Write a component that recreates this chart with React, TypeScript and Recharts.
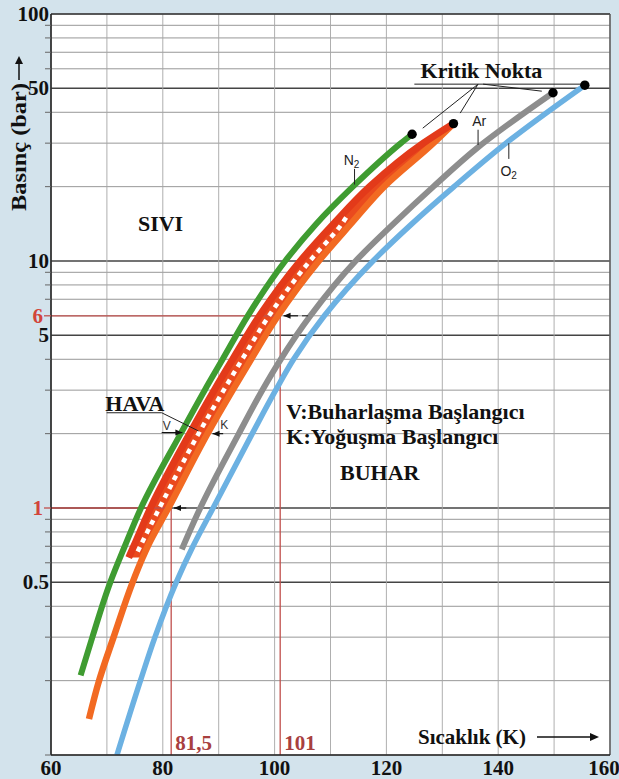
import React from "react";
import {
  ComposedChart,
  Line,
  Area,
  XAxis,
  YAxis,
  CartesianGrid,
  ReferenceLine,
  ReferenceDot,
} from "recharts";

// Axis ticks and grid
const xTicks = [60, 80, 100, 120, 140, 160];
const xGrid = [60, 70, 80, 90, 100, 110, 120, 130, 140, 150, 160];
const yGrid = [
  0.1, 0.2, 0.3, 0.4, 0.5, 0.6, 0.7, 0.8, 0.9, 1, 2, 3, 4, 5, 6, 7, 8, 9, 10,
  20, 30, 40, 50, 60, 70, 80, 90, 100,
];
const yLabels = [0.5, 1, 5, 6, 10, 50, 100];
const yRedLabels = [1, 6];
const yHeavy = [0.5, 1, 5, 10, 50];

// Saturation curves, [T (K), p (bar)]
const nitrogen = [
  [65.3, 0.21], [67.4, 0.3], [70.6, 0.5], [73.2, 0.7], [76.1, 1], [83.2, 2],
  [87.5, 3], [90.7, 4], [95.2, 6], [101.9, 10], [107.4, 14.1], [114.0, 20],
  [122.6, 30], [124.6, 32.6],
];
const argon = [
  [83.4, 0.68], [86.7, 1], [93.6, 2], [97.8, 3], [101.1, 4], [106.4, 6],
  [114.5, 10], [121.2, 14.1], [128.4, 20], [136.1, 28.5], [149.8, 48],
];
const oxygen = [
  [71.8, 0.1], [76.0, 0.2], [78.6, 0.3], [82.4, 0.5], [85.4, 0.7], [89.0, 1],
  [96.0, 2], [100.2, 3], [103.4, 4], [108.9, 6], [117.6, 10], [124.5, 14.1],
  [132.1, 20], [141.4, 30], [155.5, 51.5],
];

// Air (HAVA): V = start of boiling, K = start of condensation
const airLevels = [0.63, 0.7, 1, 2, 3, 4, 6, 10, 14.1, 20, 30, 36];
const airV = [73.9, 74.8, 77.8, 84.8, 89.2, 92.5, 97.3, 104.6, 110.5, 117.0, 126.6, 132.0];
const airK = [76.4, 77.3, 81.0, 88.0, 92.5, 95.8, 100.6, 107.9, 113.6, 119.6, 128.4, 132.0];
const airKLow = [[66.8, 0.14], [68.6, 0.2], [71.2, 0.3], [74.6, 0.5]];
const airDashes = [
  [75.4, 0.66], [79.4, 1], [86.4, 2], [90.9, 3], [94.2, 4], [99.0, 6],
  [106.3, 10], [112.0, 14.1], [112.8, 15],
];

// Critical points
const critical = [[124.6, 32.6], [132.0, 36], [149.8, 48], [155.5, 51.5]];

// Reading guides (red)
const guide1 = [[60, 1], [81.5, 1], [81.5, 0.1]];
const guide6 = [[60, 6], [101, 6], [101, 0.1]];

// Leader lines
const leaders = [
  [[125.0, 52], [155.5, 52]],
  [[136.4, 52], [126.5, 34.5]],
  [[136.4, 52], [133.2, 39.7]],
  [[137.3, 52], [147.8, 48.7]],
  [[114.3, 23.6], [114.3, 20.4]],
  [[136.4, 34.0], [136.4, 29.5]],
  [[141.9, 30], [141.9, 25.9]],
  [[69.95, 2.43], [79.8, 2.43]],
  [[79.8, 2.43], [86.4, 2.05]],
  [[104.9, 6], [106.0, 6]],
];
// Arrows: pressure, tail T, tip T
const arrows = [
  { p: 1, from: 84.2, to: 82.0 },
  { p: 6, from: 104.2, to: 101.6 },
  { p: 2.0, from: 90.8, to: 88.9 },
  { p: 2.02, from: 79.8, to: 83.5 },
];

// Annotations
const notes = [
  { t: 79.6, p: 13.2, text: "SIVI", kind: "big", anchor: "middle" },
  { t: 137.0, p: 55.1, text: "Kritik Nokta", kind: "big", anchor: "middle" },
  { t: 75.0, p: 2.47, text: "HAVA", kind: "big", anchor: "middle" },
  { t: 102.1, p: 2.29, text: "V:Buharlaşma Başlangıcı", kind: "big", anchor: "start" },
  { t: 102.1, p: 1.82, text: "K:Yoğuşma Başlangıcı", kind: "big", anchor: "start" },
  { t: 118.8, p: 1.3, text: "BUHAR", kind: "big", anchor: "middle" },
  { t: 81.5, p: 0.1, text: "81,5", kind: "red", anchor: "start" },
  { t: 101, p: 0.1, text: "101", kind: "red", anchor: "start" },
  { t: 136.6, p: 35.2, text: "Ar", kind: "small", anchor: "middle" },
  { t: 80.7, p: 2.07, text: "V", kind: "tiny", anchor: "middle" },
  { t: 91.0, p: 2.09, text: "K", kind: "tiny", anchor: "middle" },
];
const subNotes = [
  { t: 114.3, p: 24.4, base: "N", sub: "2" },
  { t: 142.4, p: 22.0, base: "O", sub: "2" },
];

const SERIF = "'Liberation Serif', 'Times New Roman', serif";
const SANS = "'Liberation Sans', Arial, sans-serif";

const noteStyles: Record<string, any> = {
  big: { fontFamily: SERIF, fontWeight: 700, fontSize: 22, fill: "#111" },
  red: { fontFamily: SERIF, fontWeight: 700, fontSize: 21, fill: "#a8403f" },
  small: { fontFamily: SANS, fontSize: 14, fill: "#222" },
  tiny: { fontFamily: SANS, fontSize: 12, fill: "#333" },
};

const toRows = (pts: number[][]) =>
  pts.map(([t, p]) => ({ t, p })).sort((a, b) => b.p - a.p);

const W = 619;
const H = 779;

const YTick = (props: any) => {
  const { x, y, payload } = props;
  const v = payload.value;
  const axisX = x + 3;
  if (!yLabels.includes(v)) {
    return (
      <line x1={axisX - 6} x2={axisX} y1={y} y2={y} stroke="#666" strokeWidth={1} />
    );
  }
  const red = yRedLabels.includes(v);
  return (
    <g>
      {red && (
        <line x1={axisX - 7} x2={axisX} y1={y} y2={y} stroke="#c0504d" strokeWidth={1.3} />
      )}
      <text
        x={red ? axisX - 8 : axisX - 2}
        y={y + 7}
        textAnchor="end"
        fontFamily={SERIF}
        fontWeight={700}
        fontSize={21}
        fill={red ? "#d2453a" : "#111"}
      >
        {v}
      </text>
    </g>
  );
};

const XTick = (props: any) => {
  const { x, y, payload } = props;
  return (
    <text
      x={payload.value === 160 ? x - 6 : x}
      y={y + 20}
      textAnchor="middle"
      fontFamily={SERIF}
      fontWeight={700}
      fontSize={21}
      fill="#111"
    >
      {payload.value}
    </text>
  );
};

export default function App() {
  const airBand = airLevels
    .map((p, i) => ({ p, v: airV[i], k: airK[i] }))
    .sort((a, b) => b.p - a.p);
  const airVRows = airBand.map((r) => ({ p: r.p, t: r.v }));
  const airKRows = toRows([
    ...airKLow,
    ...airLevels.map((p, i) => [airK[i], p]),
  ]);

  return (
    <div
      style={{
        position: "absolute",
        left: 0,
        top: 0,
        width: W,
        height: H,
        background: "#d3e3ec",
        overflow: "hidden",
      }}
    >
      <ComposedChart
        width={W}
        height={H}
        layout="vertical"
        margin={{ top: 14, right: 9, bottom: 4, left: 11 }}
      >
        <CartesianGrid fill="#ffffff" horizontal={false} vertical={false} />
        <XAxis
          type="number"
          domain={[60, 160]}
          ticks={xTicks}
          interval={0}
          allowDataOverflow
          height={20}
          tickSize={0}
          tickMargin={0}
          tickLine={false}
          tick={XTick}
          axisLine={{ stroke: "#222", strokeWidth: 1.6 }}
        />
        <YAxis
          type="number"
          dataKey="p"
          scale="log"
          reversed
          domain={[0.1, 100]}
          ticks={yGrid}
          interval={0}
          allowDataOverflow
          width={40}
          tickSize={0}
          tickMargin={3}
          tickLine={false}
          tick={YTick}
          axisLine={{ stroke: "#222", strokeWidth: 1.6 }}
        />

        {yGrid.map((v) => (
          <ReferenceLine
            key={"h" + v}
            y={v}
            stroke={yHeavy.includes(v) ? "#444" : "#8c8c8c"}
            strokeWidth={yHeavy.includes(v) ? 1.5 : 0.9}
            zIndex={-50}
          />
        ))}
        {xGrid.map((v) => (
          <ReferenceLine key={"v" + v} x={v} stroke="#a6a6a6" strokeWidth={0.9} zIndex={-50} />
        ))}
        <ReferenceLine y={100} stroke="#333" strokeWidth={1.6} zIndex={-40} />
        <ReferenceLine x={160} stroke="#555" strokeWidth={1.4} zIndex={-40} />

        <Line data={toRows(guide1)} dataKey="t" type="linear" stroke="#c0504d" strokeWidth={1.3} dot={false} isAnimationActive={false} />
        <Line data={toRows(guide6)} dataKey="t" type="linear" stroke="#c0504d" strokeWidth={1.3} dot={false} isAnimationActive={false} />

        <Line data={toRows(oxygen)} dataKey="t" type="monotone" stroke="#6cb1e2" strokeWidth={5.5} dot={false} isAnimationActive={false} />
        <Line data={toRows(argon)} dataKey="t" type="monotone" stroke="#8d8d8d" strokeWidth={6} dot={false} isAnimationActive={false} />
        <Line data={toRows(nitrogen)} dataKey="t" type="monotone" stroke="#3f9c31" strokeWidth={6} dot={false} isAnimationActive={false} />

        <Area
          data={airBand}
          dataKey={(r: any) => [r.v, r.k]}
          type="monotone"
          stroke="none"
          fill="#ea4a1e"
          fillOpacity={1}
          isAnimationActive={false}
        />
        <Line data={airKRows} dataKey="t" type="monotone" stroke="#f26a22" strokeWidth={6.5} dot={false} isAnimationActive={false} />
        <Line data={airVRows} dataKey="t" type="monotone" stroke="#e33a1a" strokeWidth={7} dot={false} isAnimationActive={false} />
        <Line data={toRows(airDashes)} dataKey="t" type="monotone" stroke="#ffffff" strokeWidth={4.5} strokeDasharray="5 5" dot={false} isAnimationActive={false} />

        {leaders.map((seg, i) => (
          <Line key={"l" + i} data={toRows(seg)} dataKey="t" type="linear" stroke="#222" strokeWidth={1} dot={false} isAnimationActive={false} />
        ))}
        {arrows.map((a, i) => (
          <Line
            key={"a" + i}
            data={[{ t: a.from, p: a.p }, { t: a.to, p: a.p }]}
            dataKey="t"
            type="linear"
            stroke="#111"
            strokeWidth={1.2}
            isAnimationActive={false}
            dot={(d: any) => {
              if (d.index !== 1) return <g key={d.key || "n" + d.index} />;
              const dir = a.to < a.from ? -1 : 1;
              return (
                <path
                  key={d.key || "tip"}
                  d={`M${d.cx},${d.cy} L${d.cx - dir * 7},${d.cy - 3} L${d.cx - dir * 7},${d.cy + 3} Z`}
                  fill="#111"
                />
              );
            }}
          />
        ))}

        {critical.map(([t, p], i) => (
          <ReferenceDot key={"c" + i} x={t} y={p} r={4.7} fill="#000" stroke="none" />
        ))}

        {notes.map((n, i) => (
          <ReferenceDot
            key={"n" + i}
            x={n.t}
            y={n.p}
            r={0}
            ifOverflow="visible"
            shape={(s: any) => (
              <text
                x={n.kind === "red" ? s.cx + 4 : s.cx}
                y={n.kind === "red" ? s.cy - 5 : s.cy}
                textAnchor={n.anchor}
                {...noteStyles[n.kind]}
              >
                {n.text}
              </text>
            )}
          />
        ))}
        {subNotes.map((n, i) => (
          <ReferenceDot
            key={"s" + i}
            x={n.t}
            y={n.p}
            r={0}
            shape={(s: any) => (
              <text x={s.cx - 3} y={s.cy} textAnchor="middle" {...noteStyles.small}>
                {n.base}
                <tspan fontSize={10} dy={3}>
                  {n.sub}
                </tspan>
              </text>
            )}
          />
        ))}
      </ComposedChart>

      <svg
        width={W}
        height={H}
        style={{ position: "absolute", left: 0, top: 0, pointerEvents: "none" }}
      >
        <text
          transform="translate(26,147) rotate(-90)"
          textAnchor="middle"
          fontFamily={SERIF}
          fontWeight={700}
          fontSize={21}
          textLength={128}
          lengthAdjust="spacingAndGlyphs"
          fill="#111"
        >
          Basınç (bar)
        </text>
        <line x1={19} y1={80} x2={19} y2={62} stroke="#111" strokeWidth={1.5} />
        <path d="M19,56 L15,64 L23,64 Z" fill="#111" />
        <text x={418} y={744} fontFamily={SERIF} fontWeight={700} fontSize={21} fill="#111">
          Sıcaklık (K)
        </text>
        <line x1={537} y1={737} x2={592} y2={737} stroke="#111" strokeWidth={1.5} />
        <path d="M599,737 L590,733 L590,741 Z" fill="#111" />
      </svg>
    </div>
  );
}
